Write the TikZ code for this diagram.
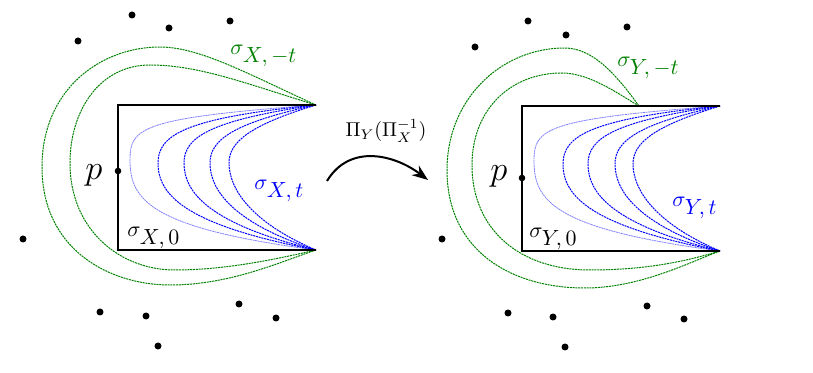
\documentclass[tikz,border=0pt]{standalone}
\usepackage{amsmath,amssymb}
\usepackage{tikz}
\usepackage{xcolor}
\usetikzlibrary{arrows.meta}
\definecolor{sgreen}{RGB}{0,128,0}

\begin{document}
\begin{tikzpicture}[x=0.5pt, y=-0.5pt, >={Stealth[length=8pt,width=6pt]},
  every node/.style={inner sep=0pt, anchor=base west, font=\fontsize{11}{13}\selectfont},
  bline/.style={blue, line width=0.5pt, dash pattern=on 1pt off 0.4pt},
  lbline/.style={blue!50, line width=0.4pt, dash pattern=on 1pt off 0.3pt},
  gline/.style={sgreen, line width=0.5pt, dash pattern=on 1pt off 0.4pt},
  bdry/.style={line width=1.4pt}]

\useasboundingbox (0,0) rectangle (813,373);

% Scattered points (left and right)
\foreach \px/\py in {132/15, 169/28, 230/21, 78/41, 23/239, 100/312, 146/316, 239/304, 276/318, 158/346}
  \fill (\px,\py) circle (3.5);
\foreach \px/\py in {528/21, 566/35, 627/27, 475/47, 442/239, 508/313, 553/317, 647/306, 684/319, 565/347}
  \fill (\px,\py) circle (3.5);

% Left picture
\coordinate (tXa) at (316,105);
\coordinate (tXb) at (316,250);

% green curves sigma_{X,-t}
\draw[gline] (tXa) .. controls (250,75) and (200,47) .. (160,47) .. controls (100,47) and (42,90) .. (42,167)
  .. controls (42,250) and (110,285) .. (170,285) .. controls (230,285) and (280,262) .. (tXb);
\draw[gline] (tXa) .. controls (250,85) and (200,65) .. (150,65) .. controls (100,65) and (70,110) .. (70,163)
  .. controls (70,230) and (120,270) .. (175,270) .. controls (230,270) and (285,257) .. (tXb);

% blue curves sigma_{X,t}
\draw[lbline] (tXa) .. controls (140,118) and (130,128) .. (130,160) .. controls (130,200) and (150,228) .. (tXb);
\foreach \v in {158,184,210,229}{
  \pgfmathsetmacro\s{(\v-158)/71}
  \draw[bline] (tXa) .. controls ({\v+27-6*\s},{118+7*\s}) and (\v,{135+7*\s}) .. (\v,163)
    .. controls (\v,{195-7*\s}) and ({\v+27-6*\s},{225-3*\s}) .. (tXb);
}

% sigma_{X,0}
\draw[bdry] (tXa) -- (118,105) -- (118,250) -- (tXb);
\fill (118,171) circle (3.3);

\node[font=\LARGE] (pX) at (85,180) {$p$};
\node (sX0) at (127,237) {$\sigma_{\textstyle X,0}$};
\node[text=blue] (sXt) at (254,190) {$\sigma_{\textstyle X,t}$};
\node[text=sgreen] (sXm) at (230,55) {$\sigma_{\textstyle X,-t}$};

% the map
\coordinate (mapL) at (327,181);
\coordinate (mapR) at (428,180);
\draw[line width=1pt, ->] (mapL) .. controls (350,143) and (395,155) .. (mapR);
\node[anchor=base, font=\normalsize] (map) at (386,137) {$\Pi_Y(\Pi_X^{-1})$};

% Right picture
\coordinate (tYa) at (720,106);
\coordinate (tYb) at (720,251);
\coordinate (gY) at (639,106);

% green curves sigma_{Y,-t}
\draw[gline] (gY) .. controls (620,80) and (595,48) .. (565,48) .. controls (500,48) and (447,100) .. (447,170)
  .. controls (447,250) and (510,288) .. (585,288) .. controls (640,288) and (690,262) .. (tYb);
\draw[gline] (gY) .. controls (620,95) and (590,73) .. (562,73) .. controls (510,73) and (472,110) .. (472,165)
  .. controls (472,230) and (520,270) .. (590,270) .. controls (650,270) and (690,260) .. (tYb);

% blue curves sigma_{Y,t}
\begin{scope}[shift={(404,1)}]
\draw[lbline] (316,105) .. controls (140,118) and (130,128) .. (130,160) .. controls (130,200) and (150,228) .. (316,250);
\foreach \v in {159,184,211,229}{
  \pgfmathsetmacro\s{(\v-158)/71}
  \draw[bline] (316,105) .. controls ({\v+27-6*\s},{118+7*\s}) and (\v,{135+7*\s}) .. (\v,163)
    .. controls (\v,{195-7*\s}) and ({\v+27-6*\s},{225-3*\s}) .. (316,250);
}
\end{scope}

% sigma_{Y,0}
\draw[bdry] (tYa) -- (522,106) -- (522,251) -- (tYb);
\fill (522,178) circle (3.3);

\node[font=\LARGE] (pY) at (490,181) {$p$};
\node (sY0) at (529,238) {$\sigma_{\textstyle Y,0}$};
\node[text=blue] (sYt) at (672,207) {$\sigma_{\textstyle Y,t}$};
\node[text=sgreen] (sYm) at (617,67) {$\sigma_{\textstyle Y,-t}$};

\end{tikzpicture}
\end{document}
